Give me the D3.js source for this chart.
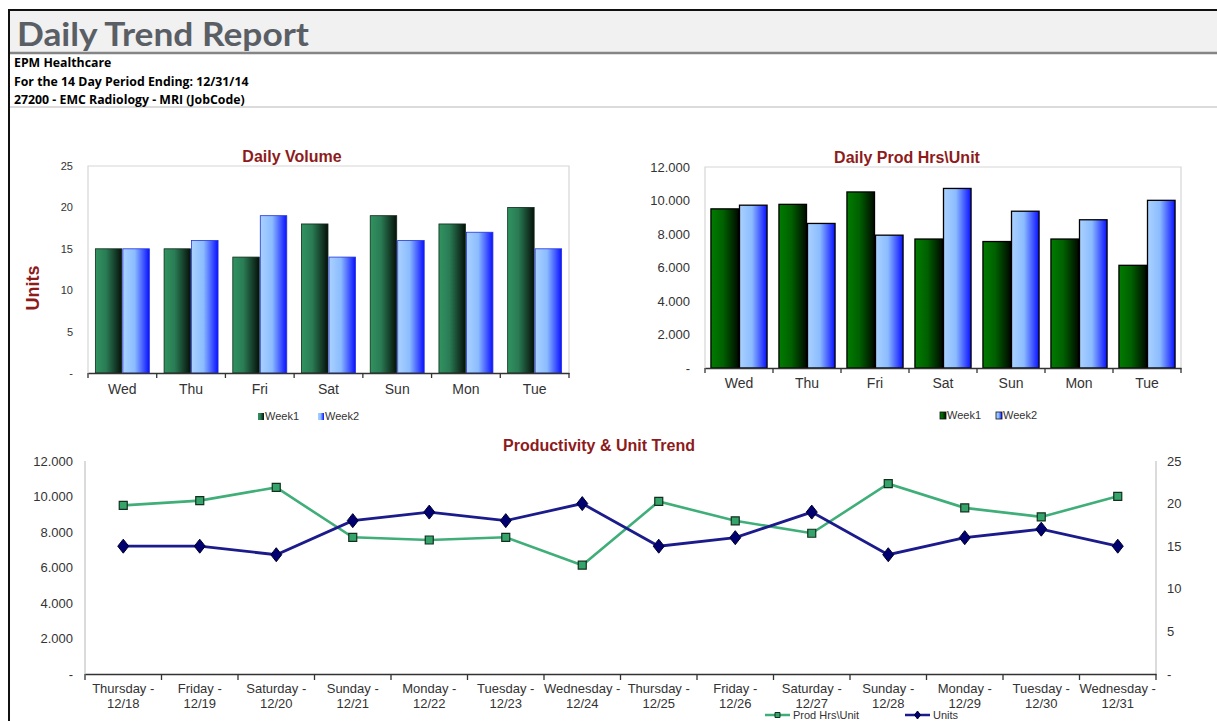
<!DOCTYPE html>
<html>
<head>
<meta charset="utf-8">
<script src="https://cdn.jsdelivr.net/npm/d3@7"></script>
<style>
  body { margin: 0; background: #fff; }
  svg { display: block; }
  .tick text { fill: #333; font-family: "Liberation Sans", Arial, sans-serif; }
</style>
</head>
<body>
<div class="container"></div>
<script>
const WIDTH = 1217,
    HEIGHT = 721;

// data
var days = ['Wed', 'Thu', 'Fri', 'Sat', 'Sun', 'Mon', 'Tue'];
var series = ['Week1', 'Week2'];
var unitsWeek1 = [15, 15, 14, 18, 19, 18, 20];
var unitsWeek2 = [15, 16, 19, 14, 16, 17, 15];
var prodWeek1 = [9.50, 9.77, 10.51, 7.70, 7.55, 7.70, 6.13];
var prodWeek2 = [9.72, 8.63, 7.93, 10.72, 9.36, 8.85, 10.01];
var trendDays = ['Thursday -', 'Friday -', 'Saturday -', 'Sunday -', 'Monday -', 'Tuesday -', 'Wednesday -',
    'Thursday -', 'Friday -', 'Saturday -', 'Sunday -', 'Monday -', 'Tuesday -', 'Wednesday -'];
var trendDates = ['12/18', '12/19', '12/20', '12/21', '12/22', '12/23', '12/24',
    '12/25', '12/26', '12/27', '12/28', '12/29', '12/30', '12/31'];
var unitTicks = [0, 5, 10, 15, 20, 25];
var prodTicks = [0, 2, 4, 6, 8, 10, 12];
var headerLines = ['EPM Healthcare', 'For the 14 Day Period Ending: 12/31/14', '27200 - EMC Radiology - MRI (JobCode)'];

const FONT = '"Liberation Sans", Arial, sans-serif';
const NARROW = '"Liberation Sans Narrow", "Liberation Sans", Arial, sans-serif';
const TITLE_RED = '#8e1b1b';

var translate = (x, y) => "translate(" + x + "," + y + ")";
var dash = (fmt) => (d) => d === 0 ? '-' : fmt(d);

var svg = d3.select('.container').append('svg')
    .attr('width', WIDTH)
    .attr('height', HEIGHT);

var defs = svg.append('defs');
var gradient = (id, stops) => {
    var g = defs.append('linearGradient').attr('id', id)
        .attr('x1', 0).attr('x2', 1).attr('y1', 0).attr('y2', 0);
    stops.forEach(s => g.append('stop').attr('offset', s[0]).attr('stop-color', s[1]));
};
gradient('volW1', [[0, '#30935f'], [0.4, '#2a7c55'], [1, '#06100a']]);
gradient('volW2', [[0, '#aad2ff'], [0.45, '#8cbcff'], [1, '#0a10ff']]);
gradient('prodW1', [[0, '#007c00'], [0.45, '#006000'], [1, '#000a00']]);
gradient('prodW2', [[0, '#aad2ff'], [0.45, '#8cbcff'], [1, '#0a10ff']]);

// ---- header ----
svg.append('rect').attr('x', 10).attr('y', 11).attr('width', WIDTH).attr('height', 41).attr('fill', '#f1f1f1');
svg.append('line').attr('x1', 9).attr('x2', WIDTH).attr('y1', 10).attr('y2', 10).attr('stroke', '#111').attr('stroke-width', 2);
svg.append('line').attr('x1', 9).attr('x2', 9).attr('y1', 9).attr('y2', HEIGHT).attr('stroke', '#111').attr('stroke-width', 2);
svg.append('line').attr('x1', 10).attr('x2', WIDTH).attr('y1', 53).attr('y2', 53).attr('stroke', '#858585').attr('stroke-width', 2.5);
svg.append('line').attr('x1', 10).attr('x2', WIDTH).attr('y1', 107).attr('y2', 107).attr('stroke', '#cfcfcf').attr('stroke-width', 1.5);

svg.append('text')
    .attr('x', 17).attr('y', 46)
    .attr('font-family', 'Lato, "Open Sans", sans-serif')
    .attr('font-weight', 700)
    .attr('font-size', 33)
    .attr('fill', '#5a5f66')
    .attr('textLength', 292)
    .attr('lengthAdjust', 'spacingAndGlyphs')
    .text('Daily Trend Report');

svg.selectAll('.hdr').data(headerLines).enter().append('text')
    .attr('x', 14).attr('y', (d, i) => 67 + i * 18.5)
    .attr('font-family', '"Open Sans", sans-serif')
    .attr('font-weight', 700)
    .attr('font-size', 12.3)
    .attr('fill', '#000')
    .text(d => d);

// ---- bar chart ----
var barChart = (opt) => {
    var g = svg.append('g');
    var x = d3.scaleBand().domain(days).range([opt.left, opt.right])
        .paddingInner(opt.pad).paddingOuter(opt.pad / 2);
    var x1 = d3.scaleBand().domain(series).range([0, x.bandwidth()]);
    var y = d3.scaleLinear().domain(opt.domain).range([opt.bottom, opt.top]);

    // frame
    g.append('path')
        .attr('d', 'M' + opt.left + ',' + opt.bottom + 'V' + opt.top + 'H' + opt.right + 'V' + opt.bottom)
        .attr('fill', 'none').attr('stroke', '#d6d6d6').attr('stroke-width', 1.2);

    g.append('g')
        .attr('transform', translate(opt.left, 0))
        .call(d3.axisLeft(y).tickValues(opt.ticks).tickSize(0).tickPadding(15).tickFormat(dash(opt.fmt)))
        .call(a => a.select('.domain').remove())
        .selectAll('text').attr('font-size', opt.yFont);

    var groups = g.selectAll('.grp').data(days).enter().append('g')
        .attr('transform', d => translate(x(d), 0));
    opt.values.forEach((vals, s) => {
        groups.append('rect')
            .attr('x', x1(series[s]) + 0.5)
            .attr('width', x1.bandwidth() - 1)
            .attr('y', (d, i) => y(vals[i]))
            .attr('height', (d, i) => opt.bottom - y(vals[i]))
            .attr('fill', 'url(#' + opt.grads[s] + ')')
            .attr('stroke', opt.strokes[s])
            .attr('stroke-width', opt.strokeWidth);
    });

    var xAxis = g.append('g')
        .attr('transform', translate(0, opt.bottom))
        .call(d3.axisBottom(x).tickSize(0).tickPadding(opt.xPad));
    xAxis.select('.domain').attr('stroke', '#333').attr('stroke-width', 1.6);
    xAxis.selectAll('text').attr('font-size', 14);
    var bounds = days.map(d => x(d) - x.step() * x.paddingInner() / 2).concat([opt.right]);
    xAxis.selectAll('.bound').data(bounds).enter().append('line')
        .attr('x1', d => d).attr('x2', d => d).attr('y1', 0).attr('y2', 5)
        .attr('stroke', '#333').attr('stroke-width', 1.3);

    g.append('text')
        .attr('x', opt.titleX).attr('y', opt.top - 4)
        .attr('text-anchor', 'middle')
        .attr('font-family', NARROW).attr('font-weight', 700).attr('font-size', 16)
        .attr('fill', TITLE_RED)
        .text(opt.title);

    var leg = g.selectAll('.leg').data(series).enter().append('g')
        .attr('transform', (d, i) => translate(opt.legendX[i], opt.legendY));
    leg.append('rect')
        .attr('x', 0).attr('y', -7).attr('width', 6).attr('height', 7)
        .attr('fill', (d, i) => 'url(#' + opt.grads[i] + ')')
        .attr('stroke', opt.legendStroke).attr('stroke-width', 0.8);
    leg.append('text')
        .attr('x', 7).attr('y', 0)
        .attr('font-family', FONT).attr('font-size', 11).attr('fill', '#333')
        .text(d => d);
    return g;
};

var volume = barChart({
    left: 88, right: 569, top: 166, bottom: 373, pad: 0.2, xPad: 11,
    domain: [0, 25], ticks: unitTicks, fmt: d3.format('d'), yFont: 11,
    values: [unitsWeek1, unitsWeek2],
    grads: ['volW1', 'volW2'], strokes: ['#0d2a1a', '#2233dd'], strokeWidth: 0.8,
    title: 'Daily Volume', titleX: 292,
    legendX: [258, 318], legendY: 420, legendStroke: 'none'
});
volume.append('text')
    .attr('transform', translate(39, 288) + ' rotate(-90)')
    .attr('text-anchor', 'middle')
    .attr('font-family', FONT).attr('font-weight', 700).attr('font-size', 18)
    .attr('fill', TITLE_RED)
    .text('Units');

barChart({
    left: 705, right: 1181, top: 167, bottom: 368, pad: 0.16, xPad: 10,
    domain: [0, 12], ticks: prodTicks, fmt: d3.format('.3f'), yFont: 13,
    values: [prodWeek1, prodWeek2],
    grads: ['prodW1', 'prodW2'], strokes: ['#000', '#000'], strokeWidth: 1.3,
    title: 'Daily Prod Hrs\\Unit', titleX: 907,
    legendX: [940, 996], legendY: 419, legendStroke: '#111'
});

// ---- trend chart ----
var T = { left: 85, right: 1156, top: 461, bottom: 674 };
var prodAll = prodWeek1.concat(prodWeek2);
var unitsAll = unitsWeek1.concat(unitsWeek2);
var tx = d3.scaleBand().domain(d3.range(trendDays.length)).range([T.left, T.right]);
var tyL = d3.scaleLinear().domain([0, 12]).range([T.bottom, T.top]);
var tyR = d3.scaleLinear().domain([0, 25]).range([T.bottom, T.top]);
var cx = i => tx(i) + tx.bandwidth() / 2;

var tg = svg.append('g');
tg.append('line').attr('x1', T.left).attr('x2', T.left).attr('y1', T.top).attr('y2', T.bottom)
    .attr('stroke', '#c8c8c8').attr('stroke-width', 1.3);
tg.append('line').attr('x1', T.right).attr('x2', T.right).attr('y1', T.top).attr('y2', T.bottom)
    .attr('stroke', '#c8c8c8').attr('stroke-width', 1.3);

tg.append('g').attr('transform', translate(T.left, 0))
    .call(d3.axisLeft(tyL).tickValues(prodTicks).tickSize(0).tickPadding(12).tickFormat(dash(d3.format('.3f'))))
    .call(a => a.select('.domain').remove())
    .selectAll('text').attr('font-size', 13);
tg.append('g').attr('transform', translate(T.right, 0))
    .call(d3.axisRight(tyR).tickValues(unitTicks).tickSize(0).tickPadding(11).tickFormat(dash(d3.format('d'))))
    .call(a => a.select('.domain').remove())
    .selectAll('text').attr('font-size', 13);

var tAxis = tg.append('g').attr('transform', translate(0, T.bottom))
    .call(d3.axisBottom(tx).tickSize(0).tickPadding(8).tickFormat(() => ''));
tAxis.select('.domain').attr('stroke', '#333').attr('stroke-width', 1.6);
tAxis.selectAll('.tick text').remove();
tAxis.selectAll('.lbl').data(trendDays).enter().append('text')
    .attr('x', (d, i) => cx(i)).attr('y', 19)
    .attr('text-anchor', 'middle')
    .attr('font-family', FONT).attr('font-size', 13).attr('fill', '#333')
    .call(t => t.append('tspan').attr('x', (d, i) => cx(i)).text(d => d))
    .call(t => t.append('tspan').attr('x', (d, i) => cx(i)).attr('dy', 15).text((d, i) => trendDates[i]));
tAxis.selectAll('.bound').data(d3.range(trendDays.length + 1)).enter().append('line')
    .attr('x1', i => T.left + i * tx.step()).attr('x2', i => T.left + i * tx.step())
    .attr('y1', 0).attr('y2', 6)
    .attr('stroke', '#333').attr('stroke-width', 1.3);

const GREEN = '#3fae78', NAVY = '#1b1b8c';
tg.append('path')
    .attr('d', d3.line().x((d, i) => cx(i)).y(d => tyL(d))(prodAll))
    .attr('fill', 'none').attr('stroke', GREEN).attr('stroke-width', 2.6);
tg.append('path')
    .attr('d', d3.line().x((d, i) => cx(i)).y(d => tyR(d))(unitsAll))
    .attr('fill', 'none').attr('stroke', NAVY).attr('stroke-width', 2.8);

var square = d3.symbol().type(d3.symbolSquare).size(64);
var diamond = 'M0,-7L5.5,0L0,7L-5.5,0Z';
tg.selectAll('.sq').data(prodAll).enter().append('path')
    .attr('transform', (d, i) => translate(cx(i), tyL(d)))
    .attr('d', square)
    .attr('fill', '#34a46a').attr('stroke', '#13301f').attr('stroke-width', 1.2);
tg.selectAll('.dm').data(unitsAll).enter().append('path')
    .attr('transform', (d, i) => translate(cx(i), tyR(d)))
    .attr('d', diamond)
    .attr('fill', '#000070').attr('stroke', '#00002a').attr('stroke-width', 1);

tg.append('text')
    .attr('x', 599).attr('y', 451)
    .attr('text-anchor', 'middle')
    .attr('font-family', NARROW).attr('font-weight', 700).attr('font-size', 16)
    .attr('fill', TITLE_RED)
    .text('Productivity & Unit Trend');

// legend, tucked against the bottom edge
var tLeg = [
    { name: 'Prod Hrs\\Unit', color: GREEN, x: 765, mark: square, fill: '#34a46a', stroke: '#13301f' },
    { name: 'Units', color: NAVY, x: 905, mark: 'M0,-4L3,0L0,4L-3,0Z', fill: '#000070', stroke: '#00002a' }
];
var tl = tg.selectAll('.tleg').data(tLeg).enter().append('g')
    .attr('transform', d => translate(d.x, 715));
tl.append('line').attr('x1', 0).attr('x2', 25).attr('y1', 0).attr('y2', 0)
    .attr('stroke', d => d.color).attr('stroke-width', 2.5);
tl.append('path').attr('transform', translate(12.5, 0))
    .attr('d', d => typeof d.mark === 'string' ? d.mark : d3.symbol().type(d3.symbolSquare).size(25)())
    .attr('fill', d => d.fill).attr('stroke', d => d.stroke).attr('stroke-width', 1);
tl.append('text').attr('x', 28).attr('y', 4)
    .attr('font-family', FONT).attr('font-size', 11).attr('fill', '#333')
    .text(d => d.name);
</script>
</body>
</html>
